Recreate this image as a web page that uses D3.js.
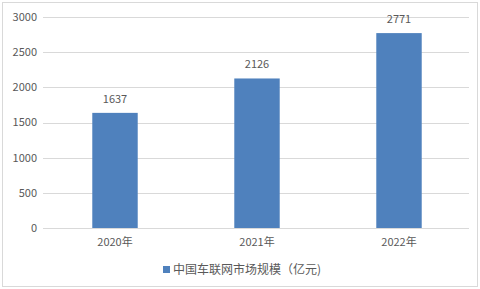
<!DOCTYPE html>
<html><head><meta charset="utf-8">
<script src="https://cdn.jsdelivr.net/npm/d3@7"></script>
<style>body{margin:0;background:#fff}svg{display:block;font-family:"Microsoft YaHei","Noto Sans CJK SC",sans-serif}</style>
</head><body><svg id="c" width="480" height="289"></svg>
<script>
const categories = ["2020年","2021年","2022年"];
const values = [1637, 2126, 2771];
const yTicks = [0,500,1000,1500,2000,2500,3000];
const seriesName = "中国车联网市场规模（亿元)";

(function(){
const svg = d3.select("#c");
const W=480,H=289;
svg.append("rect").attr("x",2.5).attr("y",2.5).attr("width",W-5).attr("height",H-5).attr("fill","#fff").attr("stroke","#d9d9d9");
const mLeft=43,mRight=469,mTop=17,mBottom=228;
const x=d3.scaleBand().domain(categories).range([mLeft,mRight]).paddingInner(0.68).paddingOuter(0.34);
const y=d3.scaleLinear().domain([0,3000]).range([mBottom,mTop]);
const txt="#595959";
svg.append("g").selectAll("line").data(yTicks).join("line")
 .attr("x1",mLeft).attr("x2",mRight).attr("y1",d=>Math.round(y(d))+0.5).attr("y2",d=>Math.round(y(d))+0.5)
 .attr("stroke","#d9d9d9");
svg.append("g").selectAll("text").data(yTicks).join("text")
 .attr("x",37).attr("y",d=>y(d)).attr("dy","0.35em").attr("text-anchor","end")
 .attr("font-size",11).attr("fill",txt).text(d=>d);
svg.append("g").selectAll("rect").data(values).join("rect")
 .attr("x",(d,i)=>x(categories[i])+1).attr("width",x.bandwidth())
 .attr("y",d=>y(d)).attr("height",d=>mBottom-y(d)).attr("fill","#4f81bd");
svg.append("g").selectAll("text").data(values).join("text")
 .attr("x",(d,i)=>x(categories[i])+1+x.bandwidth()/2).attr("y",d=>y(d)-14).attr("dy","0.35em")
 .attr("text-anchor","middle").attr("font-size",11).attr("fill",txt).text(d=>d);
svg.append("g").selectAll("text").data(categories).join("text")
 .attr("x",d=>x(d)+1+x.bandwidth()/2).attr("y",242).attr("dy","0.35em")
 .attr("text-anchor","middle").attr("font-size",11).attr("fill",txt).text(d=>d);
svg.append("rect").attr("x",163).attr("y",266).attr("width",7).attr("height",7).attr("fill","#4f81bd");
svg.append("text").attr("x",173).attr("y",270).attr("dy","0.35em").attr("font-size",12).attr("fill",txt).text(seriesName);
})();
</script></body></html>
